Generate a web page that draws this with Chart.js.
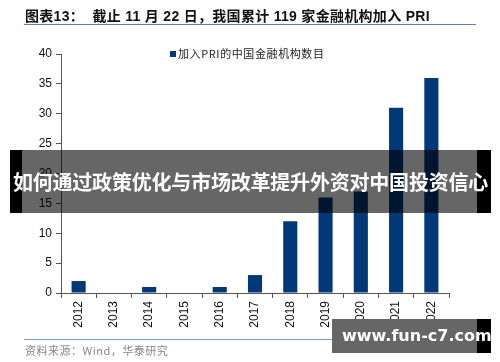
<!DOCTYPE html>
<html>
<head>
<meta charset="utf-8">
<script src="https://cdn.jsdelivr.net/npm/chart.js@4/dist/chart.umd.min.js"></script>
<style>
  html, body { margin: 0; padding: 0; background: #fff; }
  #wrap { position: relative; width: 500px; height: 362px; overflow: hidden; font-family: "Liberation Sans", Arial, "Noto Sans CJK SC", sans-serif; }
  #c { position: absolute; left: 0; top: 0; }
  .abs { position: absolute; white-space: nowrap; }
  #title { left: 25px; top: 5px; font-size: 14px; font-weight: bold; color: #111; font-family: "Liberation Sans", Arial, "Noto Sans CJK SC", sans-serif; letter-spacing: 0.3px; }
  #tline { left: 24px; top: 24px; width: 452px; height: 0; border-top: 1.5px solid #5a80b0; }
  #legend { left: 170px; top: 45px; font-size: 11px; color: #222; letter-spacing: 0.6px; font-family: "Noto Sans CJK SC", sans-serif; }
  #legend span.sq { display: inline-block; width: 6px; height: 6px; background: #003878; margin-right: 2px; vertical-align: 1px; }
  #sline { left: 24px; top: 339px; width: 452px; height: 0; border-top: 1px solid #7f9cc0; }
  #source { left: 25px; top: 342px; font-size: 11px; color: #888; font-family: "Noto Sans CJK SC", sans-serif; letter-spacing: 0.5px; }
  #bL { left: 10px; top: 150px; width: 12px; height: 63px; background: #000; }
  #bR { left: 477px; top: 150px; width: 14px; height: 63px; background: #000; }
  #bannerIn { left: 22px; top: 150px; width: 455px; height: 63px; background: rgba(0,0,0,0.6); }
  #bannerText { left: 10px; top: 150px; width: 481px; height: 63px; line-height: 63px; text-align: center; color: #fff; font-weight: bold; font-size: 20px; font-family: "Noto Sans CJK SC", sans-serif; letter-spacing: -0.2px; }
  #wm { left: 332px; top: 319px; width: 159px; height: 34px; background: #000; }
  #wmIn { left: 332px; top: 319px; width: 145px; height: 34px; background: #666; }
  #wmText { left: 342px; top: 319px; width: 140px; height: 34px; line-height: 34px; text-align: left; color: #fff; font-weight: bold; font-size: 16px; font-family: "DejaVu Sans", sans-serif; }
</style>
</head>
<body>
<div id="wrap">
  <canvas id="c" width="500" height="362"></canvas>
  <div class="abs" id="title">图表13：&nbsp; 截止 11 月 22 日，我国累计 119 家金融机构加入 PRI</div>
  <div class="abs" id="tline"></div>
  <div class="abs" id="legend"><span class="sq"></span>加入PRI的中国金融机构数目</div>
  <div class="abs" id="sline"></div>
  <div class="abs" id="source">资料来源：Wind，华泰研究</div>
  <div class="abs" id="bL"></div>
  <div class="abs" id="bR"></div>
  <div class="abs" id="bannerIn"></div>
  <div class="abs" id="bannerText">如何通过政策优化与市场改革提升外资对中国投资信心</div>
  <div class="abs" id="wm"></div>
  <div class="abs" id="wmIn"></div>
  <div class="abs" id="wmText">www.fun-c7.com</div>
</div>
<script>
const years = ["2012","2013","2014","2015","2016","2017","2018","2019","2020","2021","2022"];
const priCounts = [2, 0, 1, 0, 1, 3, 12, 16, 17, 31, 36];
const seriesName = "加入PRI的中国金融机构数目";
const yTicks = [0, 5, 10, 15, 20, 25, 30, 35, 40];

new Chart(document.getElementById('c'), {
  type: 'bar',
  data: {
    labels: years,
    datasets: [{
      label: seriesName,
      data: priCounts,
      backgroundColor: '#003878',
      borderWidth: 0,
      barPercentage: 0.4,
      categoryPercentage: 1.0
    }]
  },
  options: {
    responsive: false,
    animation: false,
    devicePixelRatio: 1,
    layout: { padding: { left: 0, top: 54, right: 51, bottom: 0 } },
    plugins: { legend: { display: false }, tooltip: { enabled: false }, title: { display: false } },
    scales: {
      x: {
        grid: { display: true, drawOnChartArea: false, drawTicks: true, tickLength: 5, color: '#555', offset: true },
        border: { display: true, color: '#555', width: 1 },
        ticks: { minRotation: 90, maxRotation: 90, color: '#111', font: { size: 12, family: '"Liberation Sans", Arial, sans-serif' }, padding: 3 },
        afterFit: (s) => { s.height = 69; }
      },
      y: {
        min: 0, max: 40,
        afterBuildTicks: (s) => { s.ticks = yTicks.map(v => ({ value: v })); },
        grid: { display: true, drawOnChartArea: false, drawTicks: true, tickLength: 5, color: '#555' },
        border: { display: true, color: '#555', width: 1 },
        ticks: { color: '#111', font: { size: 12, family: '"Liberation Sans", Arial, sans-serif' }, padding: 4 },
        afterFit: (s) => { s.width = 61; }
      }
    }
  }
});
</script>
</body>
</html>
